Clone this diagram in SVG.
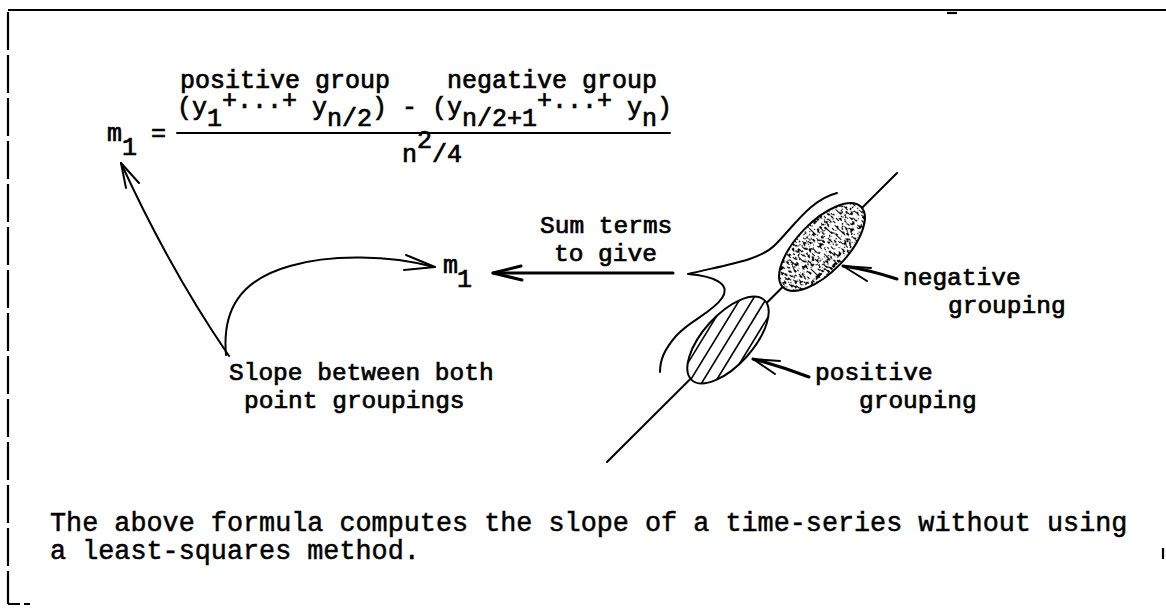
<svg xmlns="http://www.w3.org/2000/svg" width="1166" height="613" viewBox="0 0 1166 613">
<style>
  text { font-family: "Liberation Mono", "Courier New", monospace; fill: #000; }
  .t { font-size: 25px; stroke: #000; stroke-width: 0.7; }
  .lb { font-size: 24.5px; stroke: #000; stroke-width: 0.7; }
  .foot { font-size: 26.8px; stroke: #000; stroke-width: 0.5; }
  .ln { fill: none; stroke: #000; stroke-width: 2; stroke-linecap: round; stroke-linejoin: round; }
  .thick { stroke-width: 3; }
  .frame { fill: none; stroke: #000; stroke-width: 2.2; }
</style>
<defs>
  <filter id="stipple" x="-0.1" y="-0.1" width="1.2" height="1.2">
    <feTurbulence type="fractalNoise" baseFrequency="0.5 0.25" numOctaves="2" seed="7" result="noise"/>
    <feColorMatrix in="noise" type="matrix" values="0 0 0 0 0  0 0 0 0 0  0 0 0 0 0  -16 0 0 0 7.6" result="dots"/>
    <feComposite in="dots" in2="SourceGraphic" operator="in"/>
  </filter>
  <clipPath id="posclip">
    <ellipse cx="0" cy="0" rx="54" ry="25" transform="translate(728,340) rotate(-48)"/>
  </clipPath>
</defs>

<g id="frame">
  <line class="frame" x1="8" y1="10" x2="1166" y2="10"/>
  <line class="frame" x1="8" y1="12" x2="8" y2="604" stroke-dasharray="38 5"/>
  <line class="frame" x1="8" y1="604" x2="30" y2="604" stroke-dasharray="12 4"/>
  <line class="frame" x1="947" y1="13" x2="957" y2="13"/>
  <line class="frame" x1="1163" y1="548" x2="1163" y2="559"/>
</g>

<g id="formula">
  <text class="t" x="180" y="88">positive group</text>
  <text class="t" x="447" y="88">negative group</text>
  <text class="t" x="107" y="141">m</text>
  <text class="t" x="122" y="155">1</text>
  <text class="t" x="151" y="141">=</text>
  <text class="t" x="177" y="115">(y</text>
  <text class="t" x="207" y="126">1</text>
  <text class="t" x="222" y="108">+...+</text>
  <text class="t" x="312" y="115">y</text>
  <text class="t" x="327" y="126">n/2</text>
  <text class="t" x="372" y="115">)</text>
  <text class="t" x="402" y="115">-</text>
  <text class="t" x="432" y="115">(y</text>
  <text class="t" x="462" y="126">n/2+1</text>
  <text class="t" x="537" y="108">+...+</text>
  <text class="t" x="627" y="115">y</text>
  <text class="t" x="642" y="126">n</text>
  <text class="t" x="657" y="115">)</text>
  <line class="ln" x1="177" y1="133" x2="670" y2="133" stroke-width="2.5"/>
  <text class="t" x="402" y="162">n</text>
  <text class="t" x="417" y="148">2</text>
  <text class="t" x="432" y="162">/4</text>
</g>

<g id="m1-result">
  <text class="t" x="443" y="273">m</text>
  <text class="t" x="457" y="287">1</text>
</g>

<g id="sum-label">
  <text class="lb" x="540" y="233">Sum terms</text>
  <text class="lb" x="554" y="261">to give</text>
</g>

<g id="slope-label">
  <text class="lb" x="229" y="380">Slope between both</text>
  <text class="lb" x="244" y="408">point groupings</text>
</g>

<g id="negative-label">
  <text class="lb" x="903" y="285">negative</text>
  <text class="lb" x="948" y="313">grouping</text>
</g>

<g id="positive-label">
  <text class="lb" x="815" y="380">positive</text>
  <text class="lb" x="859" y="408">grouping</text>
</g>

<g id="point-figure">
  <line class="ln" x1="897" y1="173" x2="607" y2="462"/>
  <path class="ln" d="M 837 193 C 810 200, 795 225, 775 245 C 760 260, 730 264, 688 274 C 712 276, 732 283, 722 298 C 712 313, 690 320, 676 336 C 664 350, 660 360, 660 372"/>
  <ellipse cx="0" cy="0" rx="56" ry="25" fill="#fff" transform="translate(822,247) rotate(-46)"/>
  <ellipse cx="0" cy="0" rx="56" ry="25" fill="#000" filter="url(#stipple)" transform="translate(822,247) rotate(-46)"/>
  <ellipse class="ln" cx="0" cy="0" rx="56" ry="25" stroke-width="2.4" transform="translate(822,247) rotate(-46)"/>
  <ellipse cx="0" cy="0" rx="54" ry="25" fill="#fff" transform="translate(728,340) rotate(-48)"/>
  <g clip-path="url(#posclip)" stroke="#000" stroke-width="1.6">
    <line x1="639.6" y1="399.5" x2="712.4" y2="280.5"/>
    <line x1="652.6" y1="399.5" x2="725.4" y2="280.5"/>
    <line x1="665.6" y1="399.5" x2="738.4" y2="280.5"/>
    <line x1="678.6" y1="399.5" x2="751.4" y2="280.5"/>
    <line x1="691.6" y1="399.5" x2="764.4" y2="280.5"/>
    <line x1="704.6" y1="399.5" x2="777.4" y2="280.5"/>
    <line x1="717.6" y1="399.5" x2="790.4" y2="280.5"/>
    <line x1="730.6" y1="399.5" x2="803.4" y2="280.5"/>
    <line x1="743.6" y1="399.5" x2="816.4" y2="280.5"/>
  </g>
  <ellipse class="ln" cx="0" cy="0" rx="54" ry="25" stroke-width="2.4" transform="translate(728,340) rotate(-48)"/>
</g>

<g id="connectors">
  <path class="ln" d="M 229 356 Q 170 270 121 163"/>
  <path class="ln" d="M 139 183 L 121 163 L 126 188"/>
  <path class="ln" d="M 226 355 C 222 310, 240 280, 290 266 C 330 254, 390 255, 434 267"/>
  <path class="ln" d="M 406 255 L 435 267 L 404 270"/>
  <line class="ln thick" x1="673" y1="273" x2="493" y2="273"/>
  <path class="ln thick" d="M 521 266 L 493 273 L 522 280"/>
  <path class="ln thick" d="M 897 279 Q 870 270 843 266"/>
  <path class="ln" d="M 871 268 L 843 266 L 867 281"/>
  <path class="ln thick" d="M 809 377 Q 780 366 753 359"/>
  <path class="ln" d="M 780 361 L 753 359 L 775 374"/>
</g>

<g id="footnote">
  <text class="foot" x="50" y="531">The above formula computes the slope of a time-series without using</text>
  <text class="foot" x="50" y="559">a least-squares method.</text>
</g>
</svg>
